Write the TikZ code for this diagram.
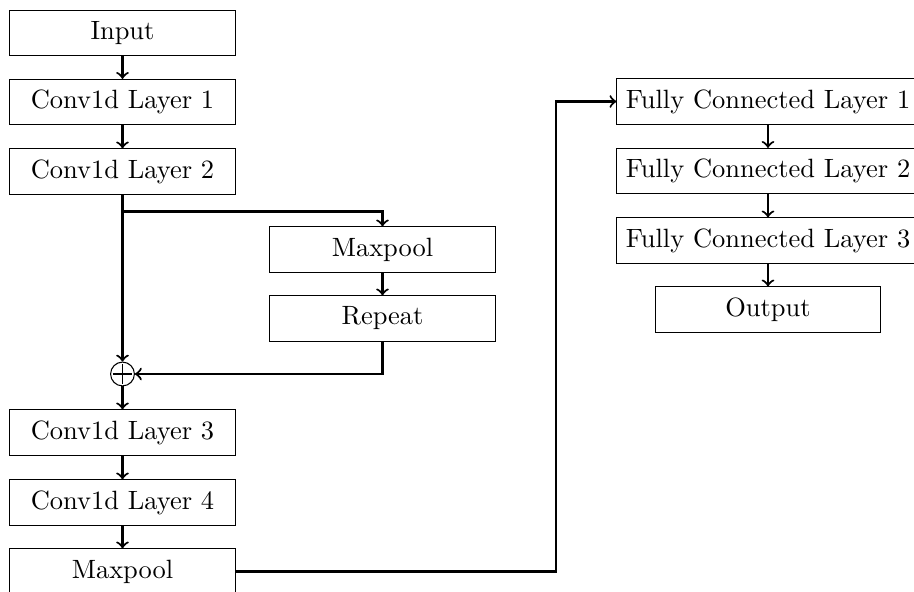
\documentclass[tikz,border=0pt]{standalone}
\usetikzlibrary{positioning}
\begin{document}
\begin{tikzpicture}[x=0.378pt, y=-0.378pt,
  layer/.style={draw, line width=0.4pt, minimum width=3cm, minimum height=0.6cm, inner sep=3.33pt, font=\normalsize},
  arr/.style={->, thick},
  sum/.style={draw, circle, line width=0.4pt, minimum size=9pt, inner sep=0pt,
    path picture={\draw[line width=0.4pt] ([yshift=-0.8pt]path picture bounding box.north) -- ([yshift=0.8pt]path picture bounding box.south)
      ([xshift=0.8pt]path picture bounding box.west) -- ([xshift=-0.8pt]path picture bounding box.east);}}]
  \useasboundingbox (0,0) rectangle (914,591);
  \clip (0,0) rectangle (914,591);

  % left column: convolutional trunk
  \node[layer] (in)  at (122.5,33)    {Input};
  \node[layer] (c1)  at (122.5,102)   {Conv1d Layer 1};
  \node[layer] (c2)  at (122.5,171.5) {Conv1d Layer 2};
  \node[sum]   (sum) at (122.5,374)   {};
  \node[layer] (c3)  at (122.5,432.5) {Conv1d Layer 3};
  \node[layer] (c4)  at (122.5,502.5) {Conv1d Layer 4};
  \node[layer] (mp2) at (122.5,571.5) {Maxpool};

  % side branch
  \node[layer] (mp1) at (382.5,249.5) {Maxpool};
  \node[layer] (rep) at (382.5,318.5) {Repeat};

  % right column: fully connected head
  \node[layer] (fc1) at (768,101.5) {Fully Connected Layer 1};
  \node[layer] (fc2) at (768,171)   {Fully Connected Layer 2};
  \node[layer] (fc3) at (768,240.5) {Fully Connected Layer 3};
  \node[layer] (out) at (768,309.5) {Output};

  \coordinate (br)   at (122.5,211.5);
  \coordinate (turn) at (556,571.5);

  % connectors
  \draw[arr] (in) -- (c1);
  \draw[arr] (c1) -- (c2);
  \draw[arr] (c2) -- (sum);
  \draw[arr] (br) -| (mp1.north);
  \draw[arr] (mp1) -- (rep);
  \draw[arr] (rep.south) |- (sum.east);
  \draw[arr] (sum) -- (c3);
  \draw[arr] (c3) -- (c4);
  \draw[arr] (c4) -- (mp2);
  \draw[arr] (mp2.east) -- (turn) |- (fc1.west);
  \draw[arr] (fc1) -- (fc2);
  \draw[arr] (fc2) -- (fc3);
  \draw[arr] (fc3) -- (out);
\end{tikzpicture}
\end{document}
